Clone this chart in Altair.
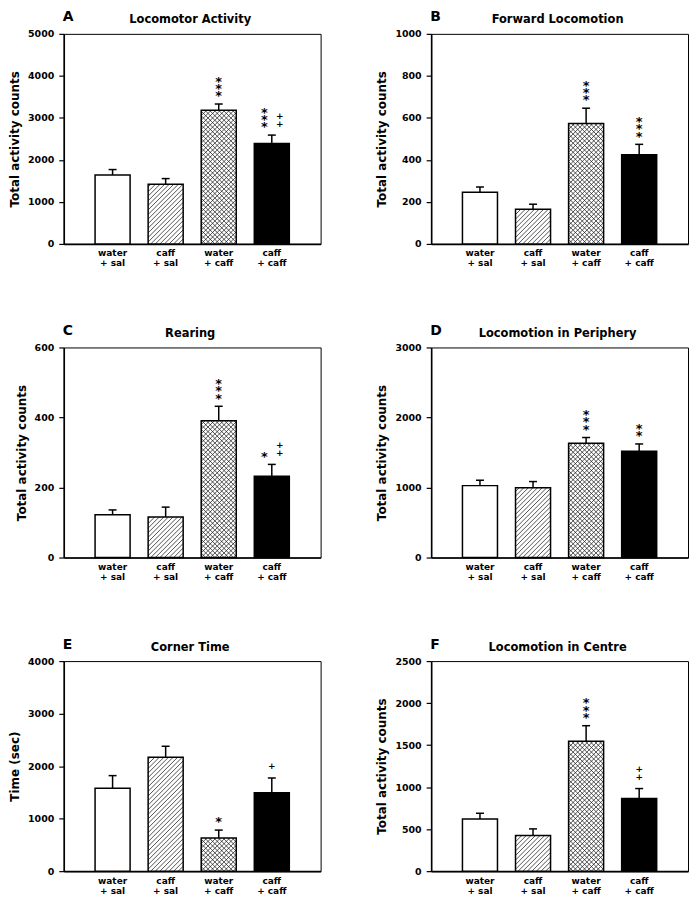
import altair as alt
import pandas as pd
import numpy as np

# ---------------- data ----------------
GROUPS = ["water\n+ sal", "caff\n+ sal", "water\n+ caff", "caff\n+ caff"]
LETTERS = ["A", "B", "C", "D", "E", "F"]
TITLES = ["Locomotor Activity", "Forward Locomotion", "Rearing",
          "Locomotion in Periphery", "Corner Time", "Locomotion in Centre"]
YTITLES = ["Total activity counts", "Total activity counts", "Total activity counts",
           "Total activity counts", "Time (sec)", "Total activity counts"]
YMAX = [5000, 1000, 600, 3000, 4000, 2500]
YSTEP = [1000, 200, 100, 500, 1000, 500]

MEAN_A = [1640, 1420, 3180, 2390]
SEM_A = [130, 135, 150, 200]
MEAN_B = [246, 165, 573, 425]
SEM_B = [25, 24, 73, 49]
MEAN_C = [122, 116, 391, 232]
SEM_C = [14, 28, 41, 34]
MEAN_D = [1027, 998, 1632, 1517]
SEM_D = [77, 87, 82, 105]
MEAN_E = [1577, 2168, 630, 1494]
SEM_E = [242, 210, 152, 280]
MEAN_F = [622, 424, 1545, 864]
SEM_F = [67, 79, 186, 119]

STARS_A = ["", "", "***", "***"]
PLUS_A = ["", "", "", "++"]
STARS_B = ["", "", "***", "***"]
PLUS_B = ["", "", "", ""]
STARS_C = ["", "", "***", "*"]
PLUS_C = ["", "", "", "++"]
STARS_D = ["", "", "***", "**"]
PLUS_D = ["", "", "", ""]
STARS_E = ["", "", "*", ""]
PLUS_E = ["", "", "", "+"]
STARS_F = ["", "", "***", ""]
PLUS_F = ["", "", "", "++"]

MEANS = [MEAN_A, MEAN_B, MEAN_C, MEAN_D, MEAN_E, MEAN_F]
SEMS = [SEM_A, SEM_B, SEM_C, SEM_D, SEM_E, SEM_F]
STARS = [STARS_A, STARS_B, STARS_C, STARS_D, STARS_E, STARS_F]
PLUSES = [PLUS_A, PLUS_B, PLUS_C, PLUS_D, PLUS_E, PLUS_F]

# ---------------- layout ----------------
W, H = 258, 211
XDOM = [0.08, 4.92]
HALF = 0.33
CAP = 0.075
FONT = "DejaVu Sans"
HATCH_D = 4.6
SX = W / (XDOM[1] - XDOM[0])
STAR_BASE, STAR_STEP, STAR_SIZE = 3.8, 7.3, 13
PLUS_BASE, PLUS_STEP, PLUS_SIZE = 8.6, 8.0, 9


def hatch_segments(values, ymax, spec):
    sy = H / ymax
    rows = []
    for i, dirs in spec.items():
        X0 = (i + 1 - HALF - XDOM[0]) * SX
        X1 = (i + 1 + HALF - XDOM[0]) * SX
        V = values[i] * sy
        for dr in dirs:
            if dr == 1:  # "/" : py = px + c
                c0 = np.ceil(-X1 / HATCH_D) * HATCH_D
                for c in np.arange(c0, V - X0, HATCH_D):
                    s = max(X0, -c)
                    e = min(X1, V - c)
                    if e - s > 0.3:
                        rows.append((s, s + c, e, e + c))
            else:  # "\" : py = -px + c
                c0 = np.ceil(X0 / HATCH_D) * HATCH_D
                for c in np.arange(c0, X1 + V, HATCH_D):
                    s = max(X0, c - V)
                    e = min(X1, c)
                    if e - s > 0.3:
                        rows.append((s, c - s, e, c - e))
    return pd.DataFrame([
        {"x": XDOM[0] + a / SX, "y": b / sy, "x2": XDOM[0] + c / SX, "y2": d / sy}
        for a, b, c, d in rows
    ])


def marker_rows(k):
    sy = H / YMAX[k]
    rows = []
    for i in range(4):
        top = MEANS[k][i] + SEMS[k][i]
        st, pl = STARS[k][i], PLUSES[k][i]
        both = bool(st) and bool(pl)
        for j, ch in enumerate(st):
            rows.append({"kind": "star", "t": ch,
                         "x": i + 1 - (7.5 / SX if both else 0),
                         "y": top + (STAR_BASE + j * STAR_STEP) / sy})
        for j, ch in enumerate(pl):
            rows.append({"kind": "plus", "t": ch,
                         "x": i + 1 + (8.0 / SX if both else 0),
                         "y": top + (PLUS_BASE + j * PLUS_STEP) / sy})
    return pd.DataFrame(rows)


def panel(k):
    ymax = YMAX[k]
    df = pd.DataFrame({
        "pos": [1, 2, 3, 4],
        "group": GROUPS,
        "mean": MEANS[k],
        "sem": SEMS[k],
    })
    df["top"] = df["mean"] + df["sem"]
    df["zero"] = 0
    df["lo"] = df["pos"] - HALF
    df["hi"] = df["pos"] + HALF
    df["clo"] = df["pos"] - CAP
    df["chi"] = df["pos"] + CAP

    xs = alt.Scale(domain=XDOM, nice=False, zero=False)
    ys = alt.Scale(domain=[0, ymax], nice=False)
    xaxis = alt.Axis(labels=False, ticks=False, domain=True, domainColor="black",
                     domainWidth=1.6, title=None, grid=False)
    yaxis = alt.Axis(values=list(range(0, ymax + 1, YSTEP[k])), format="d",
                     title=YTITLES[k], grid=False)
    base = alt.Chart(df)

    fills = base.mark_rect().encode(
        x=alt.X("lo:Q", scale=xs, axis=xaxis), x2="hi:Q",
        y=alt.Y("mean:Q", scale=ys, axis=yaxis), y2="zero:Q",
        fill=alt.Fill("pos:O", scale=alt.Scale(domain=[1, 2, 3, 4],
                      range=["white", "white", "white", "black"]), legend=None),
    )
    hdf = hatch_segments(MEANS[k], ymax, {1: [1], 2: [1, -1]})
    hatch = alt.Chart(hdf).mark_rule(color="#1a1a1a", strokeWidth=0.75).encode(
        x=alt.X("x:Q", scale=xs), x2="x2:Q", y=alt.Y("y:Q", scale=ys), y2="y2:Q")
    outline = base.mark_rect(fillOpacity=0, stroke="black", strokeWidth=1.5).encode(
        x=alt.X("lo:Q", scale=xs), x2="hi:Q", y=alt.Y("mean:Q", scale=ys), y2="zero:Q")
    err = base.mark_rule(color="black", strokeWidth=1.5).encode(
        x=alt.X("pos:Q", scale=xs), y=alt.Y("mean:Q", scale=ys), y2="top:Q")
    cap = base.mark_rule(color="black", strokeWidth=1.5).encode(
        x=alt.X("clo:Q", scale=xs), x2="chi:Q", y=alt.Y("top:Q", scale=ys))

    mdf = marker_rows(k)
    mbase = alt.Chart(mdf)
    stars = mbase.transform_filter("datum.kind == 'star'").mark_text(
        font=FONT, fontWeight="bold", fontSize=STAR_SIZE,
        baseline="alphabetic", align="center", color="black").encode(
        x=alt.X("x:Q", scale=xs), y=alt.Y("y:Q", scale=ys), text="t:N")
    plus = mbase.transform_filter("datum.kind == 'plus'").mark_text(
        font=FONT, fontWeight="bold", fontSize=PLUS_SIZE,
        baseline="alphabetic", align="center", color="black").encode(
        x=alt.X("x:Q", scale=xs), y=alt.Y("y:Q", scale=ys), text="t:N")

    xlab = base.mark_text(
        font=FONT, fontWeight="bold", fontSize=9, lineBreak="\n", lineHeight=10,
        baseline="top", align="center", color="black").encode(
        x=alt.X("pos:Q", scale=xs), y=alt.value(H + 5.5), text="group:N")
    tdf = pd.DataFrame({"letter": [LETTERS[k]], "title": [TITLES[k]]})
    letter = alt.Chart(tdf).mark_text(
        font=FONT, fontWeight="bold", fontSize=14, align="left",
        baseline="alphabetic", color="black").encode(
        x=alt.value(-1), y=alt.value(-12.5), text="letter:N")
    title = alt.Chart(tdf).mark_text(
        font=FONT, fontWeight="bold", fontSize=11.5, align="center",
        baseline="alphabetic", color="black").encode(
        x=alt.value(W / 2 - 2), y=alt.value(-10.5), text="title:N")

    return alt.layer(fills, hatch, outline, err, cap, stars, plus, xlab, letter,
                     title).properties(width=W, height=H)


chart = alt.concat(*[panel(k) for k in range(6)], columns=2,
                   spacing={"row": 104, "column": 111}, bounds="flush").properties(
    padding={"left": 0, "top": 0, "right": 0, "bottom": 0},
    background="white",
).configure_view(stroke="black", strokeWidth=1).configure_axisY(
    labelFont=FONT, labelFontSize=9.5, labelFontWeight="bold", labelColor="black",
    titleFont=FONT, titleFontSize=12, titleFontWeight="bold", titleColor="black",
    titlePadding=6, tickSize=5, tickColor="black", tickWidth=1.2,
    domainColor="black", domainWidth=1.6, labelPadding=5,
)

chart.save("out.html", embed_options={"renderer": "svg", "actions": False})
